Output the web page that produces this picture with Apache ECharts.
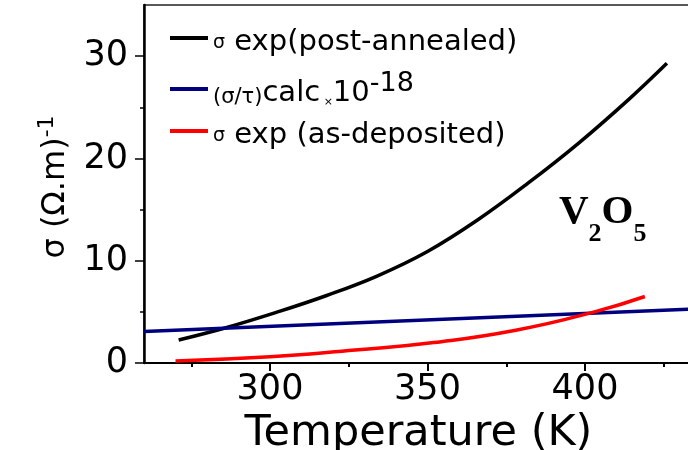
<!DOCTYPE html>
<html style="height: 100%">
<head>
    <meta charset="utf-8">
    <title>V2O5 conductivity</title>
</head>
<body style="height: 100%; margin: 0; background: #fff">
    <div id="container" style="width: 688px; height: 450px"></div>

    <script src="https://cdn.jsdelivr.net/npm/echarts@6/dist/echarts.min.js"></script>
    <script>

// data
const tempPost  = [271, 286, 302, 318, 334, 350, 366, 382, 398, 414, 426];
const sigmaPost = [2.25, 3.45, 4.95, 6.6, 8.5, 10.9, 14.0, 17.6, 21.5, 25.8, 29.3];

const tempCalc  = [260, 440];
const sigmaCalc = [3.07, 5.35];

const tempDep   = [270, 300, 327, 352, 378, 403, 419];
const sigmaDep  = [0.2, 0.6, 1.27, 2.0, 3.2, 5.0, 6.5];

const xLabels   = [300, 350, 400];
const xMinor    = [275, 325, 375, 425];
const yLabels   = [0, 10, 20, 30];
const yMinor    = [5, 15, 25];

const names = ['post', 'calc', 'dep'];

const zip = (xs, ys) => xs.map((x, i) => [x, ys[i]]);

const font = 'DejaVu Sans';

// legend text styles
const rich = {
    s:   { fontFamily: font, fontSize: 19, color: '#000', verticalAlign: 'bottom', padding: [0, 0, 4, 0] },
    e:   { fontFamily: font, fontSize: 29, color: '#000', verticalAlign: 'bottom', lineHeight: 38 },
    p:   { fontFamily: font, fontSize: 29, color: '#000', verticalAlign: 'bottom', lineHeight: 38 },
    sm:  { fontFamily: font, fontSize: 21, color: '#000', verticalAlign: 'bottom', lineHeight: 24 },
    x:   { fontFamily: font, fontSize: 11, color: '#000', verticalAlign: 'bottom', lineHeight: 14 },
    sup: { fontFamily: font, fontSize: 27, color: '#000', verticalAlign: 'top', lineHeight: 28 }
};

const legendText = {
    post: '{s|σ}{e| exp}{p|(post-annealed)}',
    calc: '{sm|(σ/τ)}{e|calc}{x| ×}{e|10}{sup|-18}',
    dep:  '{s|σ}{e| exp }{p|(as-deposited)}'
};

const legendTop = [28, 70, 121];

const chart = echarts.init(document.getElementById('container'));

const option = {
    animation: false,
    backgroundColor: '#fff',
    grid: {
        left: 144,
        top: 5,
        right: -23,
        bottom: 87,
        outerBoundsMode: 'none',
        show: true,
        borderColor: '#222',
        borderWidth: 1.5
    },
    legend: names.map((n, i) => ({
        data: [n],
        left: 170,
        top: legendTop[i],
        orient: 'vertical',
        icon: 'rect',
        itemWidth: 38,
        itemHeight: 4,
        padding: 0,
        selectedMode: false,
        formatter: name => legendText[name],
        textStyle: { rich: rich }
    })),
    graphic: [{
        type: 'text',
        left: 559,
        top: 192,
        style: {
            text: '{b|V}{s|2}{b|O}{s|5}',
            rich: {
                b: { fontFamily: 'Liberation Serif', fontWeight: 'bold', fontSize: 41, lineHeight: 55, verticalAlign: 'top', fill: '#000' },
                s: { fontFamily: 'Liberation Serif', fontWeight: 'bold', fontSize: 26, lineHeight: 20, verticalAlign: 'bottom', fill: '#000' }
            }
        }
    }],
    xAxis: [
        {
            type: 'value',
            min: 260,
            max: 440,
            name: 'Temperature (K)',
            nameLocation: 'middle',
            nameGap: 47,
            nameTextStyle: { fontFamily: font, fontSize: 43, color: '#000', padding: [0, 18, 0, 0] },
            axisLine: { show: true, lineStyle: { color: '#000', width: 2 } },
            axisTick: { show: true, inside: false, length: 8, customValues: xLabels, lineStyle: { color: '#000', width: 2 } },
            axisLabel: { customValues: xLabels, margin: 9, fontFamily: font, fontSize: 35, color: '#000' },
            splitLine: { show: false }
        },
        {
            // minor ticks
            type: 'value',
            min: 260,
            max: 440,
            position: 'bottom',
            axisLine: { show: false },
            axisTick: { show: true, length: 4, customValues: xMinor, lineStyle: { color: '#000', width: 2 } },
            axisLabel: { show: false },
            splitLine: { show: false }
        }
    ],
    yAxis: [
        {
            type: 'value',
            min: 0,
            max: 35,
            name: '{m|σ (Ω.m)}{sup|-1}',
            nameLocation: 'middle',
            nameRotate: 90,
            nameGap: 72,
            nameTextStyle: {
                padding: [0, 6, 0, 0],
                rich: {
                    m:   { fontFamily: font, fontSize: 32, color: '#000', verticalAlign: 'bottom', lineHeight: 36 },
                    sup: { fontFamily: font, fontSize: 22, color: '#000', verticalAlign: 'top', lineHeight: 22 }
                }
            },
            axisLine: { show: true, lineStyle: { color: '#000', width: 2.5 } },
            axisTick: { show: true, length: 9, customValues: yLabels, lineStyle: { color: '#000', width: 1.5 } },
            axisLabel: { customValues: yLabels, margin: 16, fontFamily: font, fontSize: 35, color: '#000' },
            splitLine: { show: false }
        },
        {
            // minor ticks
            type: 'value',
            min: 0,
            max: 35,
            position: 'left',
            axisLine: { show: false },
            axisTick: { show: true, length: 4, customValues: yMinor, lineStyle: { color: '#000', width: 1.5 } },
            axisLabel: { show: false },
            splitLine: { show: false }
        }
    ],
    series: [
        {
            name: 'post',
            type: 'line',
            smooth: 0.4,
            showSymbol: false,
            color: '#000000',
            lineStyle: { color: '#000000', width: 3.5 },
            data: zip(tempPost, sigmaPost)
        },
        {
            name: 'calc',
            type: 'line',
            showSymbol: false,
            color: '#00007f',
            lineStyle: { color: '#00007f', width: 3.5 },
            data: zip(tempCalc, sigmaCalc)
        },
        {
            name: 'dep',
            type: 'line',
            smooth: 0.5,
            showSymbol: false,
            color: '#ff0000',
            lineStyle: { color: '#ff0000', width: 3.5 },
            data: zip(tempDep, sigmaDep)
        }
    ]
};

chart.setOption(option);

window.addEventListener('resize', () => chart.resize());
    </script>
</body>
</html>
